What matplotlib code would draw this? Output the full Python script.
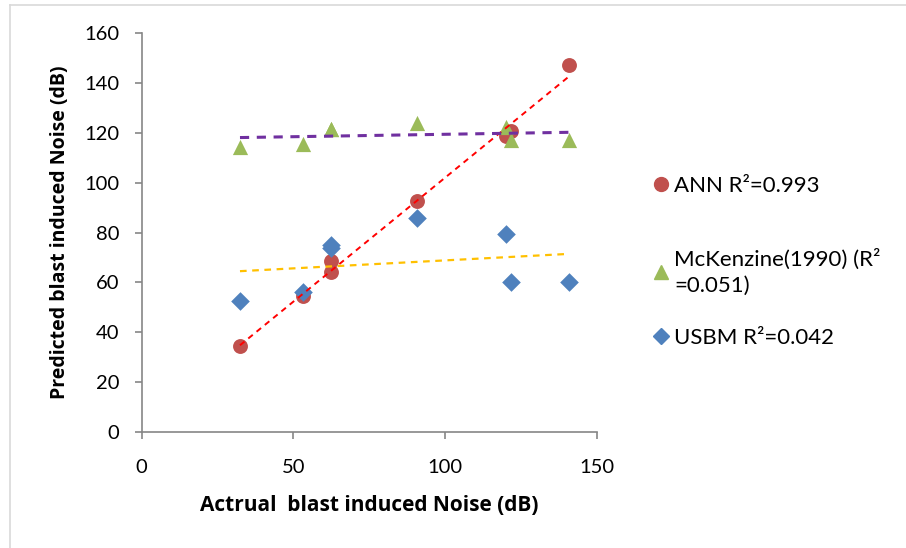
import numpy as np
import matplotlib
matplotlib.use("Agg")
import matplotlib.pyplot as plt
from matplotlib.lines import Line2D

# ---- data ----
actual = [32.4, 53.1, 62.4, 62.4, 90.9, 120.2, 121.8, 140.8]
ann = [34.5, 54.6, 64.0, 68.5, 92.6, 118.5, 120.5, 147.2]
mckenzie = [114.2, 115.6, 121.3, 121.3, 124.0, 122.2, 116.9, 116.9]
usbm = [52.6, 56.2, 74.0, 75.0, 85.8, 79.3, 60.2, 60.2]
labels = ["ANN R\u00b2=0.993", "McKenzine(1990) (R\u00b2\n=0.051)", "USBM R\u00b2=0.042"]
x_ticks = [0, 50, 100, 150]
y_ticks = [0, 20, 40, 60, 80, 100, 120, 140, 160]

FONT = ["Lato", "DejaVu Sans"]
BOLD = ["Open Sans", "DejaVu Sans"]
plt.rcParams["font.family"] = FONT

fig = plt.figure(figsize=(9.06, 5.48), dpi=100)
ax = fig.add_axes([0.1564, 0.2111, 0.5022, 0.7292])

c_ann, c_mck, c_usbm = "#C0504D", "#9BBB59", "#4F81BD"
x = np.array(actual)

# trendlines (linear fits)
xs = np.array([x.min(), x.max()])
for ys, col, lw in [(ann, "#FF0000", 1.4), (mckenzie, "#7030A0", 2.2), (usbm, "#FFC000", 1.6)]:
    p = np.polyfit(x, ys, 1)
    ax.plot(xs, np.polyval(p, xs), color=col, lw=lw, ls=(0, (3, 2.5)), zorder=3)

h1 = ax.scatter(x, ann, s=115, marker="o", color=c_ann, zorder=2, linewidths=0)
h2 = ax.scatter(x, mckenzie, s=120, marker="^", color=c_mck, zorder=2, linewidths=0)
h3 = ax.scatter(x, usbm, s=90, marker="D", color=c_usbm, zorder=2, linewidths=0)

ax.set_xlim(0, 150)
ax.set_ylim(0, 160)
ax.set_xticks(x_ticks)
ax.set_yticks(y_ticks)
ax.tick_params(axis="both", labelsize=14.5, color="#868686", length=5, width=1.2,
               direction="out", pad=11)
ax.tick_params(axis="x", pad=14)
for s in ["top", "right"]:
    ax.spines[s].set_visible(False)
for s in ["left", "bottom"]:
    ax.spines[s].set_color("#868686")
    ax.spines[s].set_linewidth(1.2)

ax.set_xlabel("Actrual  blast induced Noise (dB)", fontsize=15, fontweight="bold",
              family=BOLD, labelpad=14)
ax.set_ylabel("Predicted blast induced Noise (dB)", fontsize=14, fontweight="bold",
              family=BOLD, labelpad=10)

# legend entries (one per series)
ypos = [186, 272, 338]
for h, lab, yp, mk, col, ms in zip([h1, h2, h3], labels, ypos,
                                   ["o", "^", "D"], [c_ann, c_mck, c_usbm], [10, 10, 8]):
    handle = Line2D([], [], ls="none", marker=mk, color=col, markersize=ms)
    leg = fig.legend([handle], [lab], loc="center left",
                     bbox_to_anchor=(654 / 906, 1 - yp / 548),
                     frameon=False, fontsize=16, handlelength=0.6, handletextpad=0.3,
                     borderpad=0, borderaxespad=0)
    for t in leg.get_texts():
        t.set_linespacing(1.4)

# outer border
fig.add_artist(Line2D([10 / 906, 10 / 906], [0, 1 - 5 / 548], transform=fig.transFigure,
                      color="#d9d9d9", lw=1.2))
fig.add_artist(Line2D([10 / 906, 1], [1 - 5 / 548, 1 - 5 / 548], transform=fig.transFigure,
                      color="#d9d9d9", lw=1.2))

fig.savefig("out.png", dpi=100)
